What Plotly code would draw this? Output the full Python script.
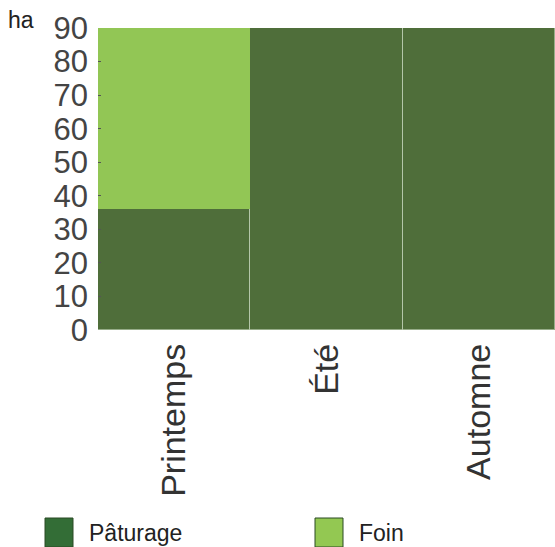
import plotly.graph_objects as go

categories = ["Printemps", "Été", "Automne"]
paturage = [36, 90, 90]
foin = [54, 0, 0]
series_names = ["Pâturage", "Foin"]
y_ticks = [0, 10, 20, 30, 40, 50, 60, 70, 80, 90]

bar_dark = "#4f6e3a"
bar_light = "#92c655"
leg_dark = "#336d36"
leg_light = "#93c852"

fig = go.Figure()
fig.add_trace(go.Bar(x=categories, y=paturage, name=series_names[0],
                     marker=dict(color=bar_dark, line=dict(color="rgba(200,215,190,0.6)", width=1)),
                     showlegend=False))
fig.add_trace(go.Bar(x=categories, y=foin, name=series_names[1],
                     marker=dict(color=bar_light, line=dict(color=bar_light, width=0)),
                     showlegend=False))

font_family = "Liberation Sans, Arial, sans-serif"

fig.update_layout(
    barmode="stack",
    bargap=0,
    width=555, height=547,
    margin=dict(l=98, r=0, t=28, b=217),
    plot_bgcolor="white", paper_bgcolor="white",
    font=dict(family=font_family, color="#333333"),
    xaxis=dict(tickangle=-90, tickfont=dict(size=34, color="#333333"),
               showline=False, ticks="", showgrid=False, ticklabelstandoff=6),
    yaxis=dict(range=[0, 90], tickvals=y_ticks, tickfont=dict(size=31, color="#444444"),
               showgrid=False, ticks="inside", ticklen=3, tickcolor="#555555",
               zeroline=False, showline=False, ticklabelstandoff=9),
)

pw, ph = 457, 302

# "ha" unit label
fig.add_annotation(text="ha", xref="paper", yref="paper", x=(6 - 98) / pw, y=(330 - 20) / ph,
                   xanchor="left", yanchor="middle", showarrow=False,
                   font=dict(size=23, color="#222222", family=font_family))

# custom legend
legend_items = [(series_names[0], leg_dark, 45), (series_names[1], leg_light, 315)]
for name, col, x0 in legend_items:
    fig.add_shape(type="rect", xref="paper", yref="paper",
                  x0=(x0 - 98) / pw, x1=(x0 + 28 - 98) / pw,
                  y0=(330 - 547) / ph, y1=(330 - 518) / ph,
                  fillcolor=col, line=dict(color="#2a4a25", width=1))
    fig.add_annotation(text=name, xref="paper", yref="paper",
                       x=(x0 + 42 - 98) / pw, y=(330 - 533) / ph,
                       xanchor="left", yanchor="middle", showarrow=False,
                       font=dict(size=23, color="#222222", family=font_family))

fig.write_html("out.html", config={"displayModeBar": False},
               post_script="document.body.style.margin='0';document.body.style.overflow='hidden';")
